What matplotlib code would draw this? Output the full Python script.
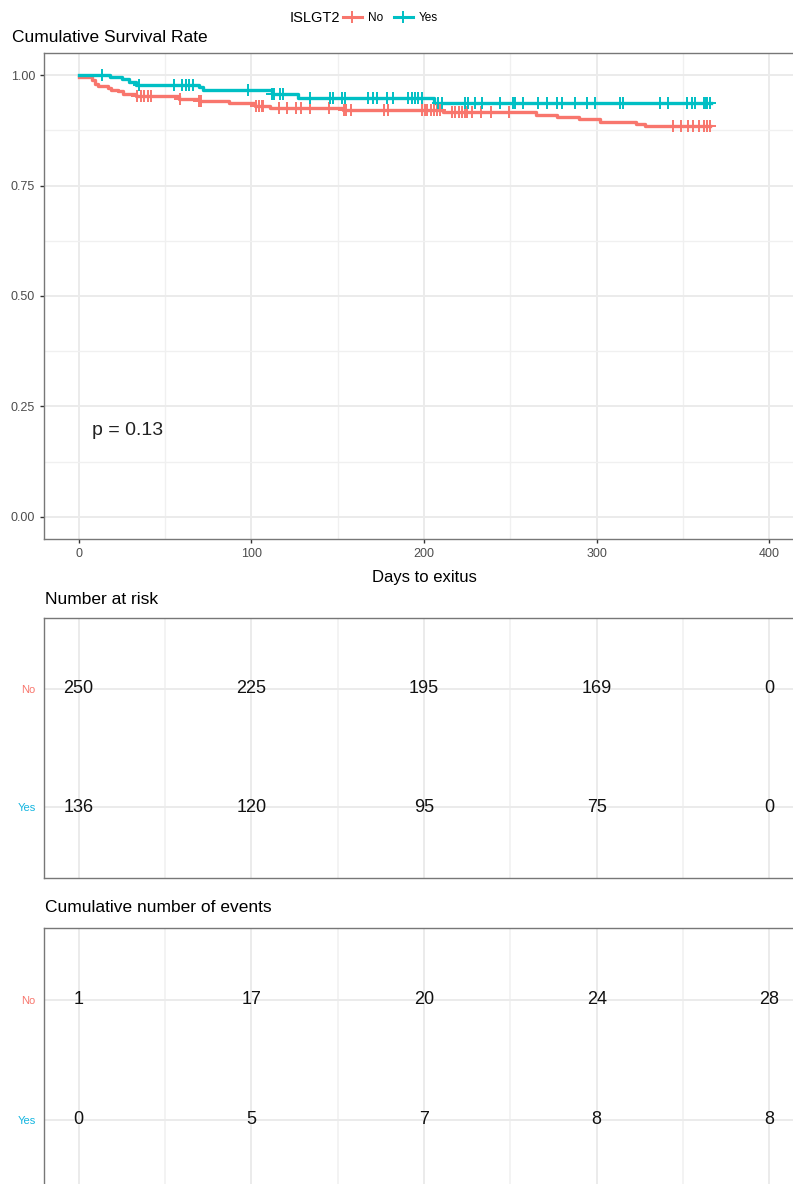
import numpy as np
import matplotlib
matplotlib.use("Agg")
import matplotlib.pyplot as plt
from matplotlib.lines import Line2D
from matplotlib.ticker import MultipleLocator

plt.rcParams['font.family'] = ['Liberation Sans', 'DejaVu Sans']

# ---------- data ----------
groups = ["No", "Yes"]
colors = {"No": "#F8766D", "Yes": "#00BFC4"}
label_colors = {"No": "#F8766D", "Yes": "#12B5E0"}

# Kaplan-Meier steps: time (days) and survival after the step
no_times = [0, 7.5, 9.5, 11.5, 17, 19, 23, 26, 33.5, 58, 69.5, 87, 102, 111, 153,
            211, 265, 277, 290, 302, 323, 328, 365.5]
no_surv = [0.996, 0.988, 0.980, 0.975, 0.971, 0.967, 0.963, 0.958, 0.953, 0.945, 0.941,
           0.936, 0.930, 0.926, 0.921, 0.916, 0.910, 0.906, 0.900, 0.894, 0.889, 0.884, 0.884]
yes_times = [0, 18, 25, 29, 33, 70, 72, 112, 127, 206, 366]
yes_surv = [1.0, 0.995, 0.991, 0.985, 0.977, 0.972, 0.966, 0.957, 0.949, 0.937, 0.937]

# censoring times
no_censor = [34, 36, 38, 40, 42, 59, 70, 71, 103, 104.5, 106, 107, 116, 120.5, 126, 129,
             134, 145, 153.5, 155, 158, 177, 179, 199, 200.5, 202, 204, 205.5, 207.5, 209,
             216, 218, 220, 222, 223.5, 225, 228, 233, 239, 249, 344, 349, 353, 356, 359,
             362, 364, 365.5]
yes_censor = [13.5, 35, 55, 60, 62, 64, 66.5, 98, 112, 113, 116.7, 118.6, 134, 145.6,
              147.5, 152.4, 154.3, 167.8, 170.7, 172.6, 178.4, 182.2, 190.9, 192.9, 194.8,
              196.7, 198.6, 208.3, 210.2, 223.7, 225.6, 229.5, 233.4, 243.9, 251.7, 252.6,
              257.5, 266.2, 271, 276.8, 279.7, 287.4, 294.1, 299, 313.4, 315.4, 336.6, 341.4,
              352, 354.9, 356.8, 362, 363, 364, 365.5]

table_days = [0, 100, 200, 300, 400]
no_at_risk = [250, 225, 195, 169, 0]
yes_at_risk = [136, 120, 95, 75, 0]
no_events = [1, 17, 20, 24, 28]
yes_events = [0, 5, 7, 8, 8]

curves = {
    "No": (no_times, no_surv, no_censor),
    "Yes": (yes_times, yes_surv, yes_censor),
}

# ---------- figure ----------
W, H = 793, 1184
fig = plt.figure(figsize=(W / 100, H / 100), dpi=100)

def fx(px):
    return px / W

def fy(py):
    return 1 - py / H

border = "#777777"
grid_major = "#EBEBEB"
grid_minor = "#F0F0F0"

def style_panel(ax):
    for s in ax.spines.values():
        s.set_color(border)
        s.set_linewidth(1.0)
    ax.set_xlim(-20, 420)
    ax.xaxis.set_major_locator(MultipleLocator(100))
    ax.xaxis.set_minor_locator(MultipleLocator(50))
    ax.grid(which="major", color=grid_major, linewidth=1.4)
    ax.set_axisbelow(True)

left_px, right_px = 44, 804
ax_w = fx(right_px - left_px)

# --- survival panel ---
ax = fig.add_axes([fx(left_px), fy(539), ax_w, (539 - 53) / H])
style_panel(ax)
ax.set_ylim(-0.05, 1.05)
ax.yaxis.set_major_locator(MultipleLocator(0.25))
ax.yaxis.set_minor_locator(MultipleLocator(0.125))
ax.grid(which="minor", color=grid_minor, linewidth=1.0)
ax.set_yticks([0, 0.25, 0.5, 0.75, 1.0])
ax.set_yticklabels(["0.00", "0.25", "0.50", "0.75", "1.00"])
ax.tick_params(which="major", length=3, width=1, color="#333333", labelsize=9,
               labelcolor="#4D4D4D")
ax.tick_params(which="minor", length=0)

for g in groups:
    t, s, cens = curves[g]
    ax.step(t, s, where="post", color=colors[g], linewidth=2.4, zorder=3)
    t_arr = np.array(t)
    idx = np.searchsorted(t_arr, np.array(cens), side="right") - 1
    cy = np.array(s)[idx]
    ax.plot(cens, cy, linestyle="none", marker="+", markersize=8, markeredgewidth=1.4,
            color=colors[g], zorder=4)

ax.text(8, 0.195, "p = 0.13", fontsize=14, color="#222222", ha="left", va="center")
ax.set_xlabel("Days to exitus", fontsize=12, labelpad=7)

fig.text(fx(12), fy(37), "Cumulative Survival Rate", fontsize=12.5, ha="left", va="center")

# legend
fig.text(fx(340), fy(18), "ISLGT2", fontsize=10.5, ha="right", va="center")
handles = [Line2D([], [], color=colors[g], linewidth=2.2, marker="+", markersize=8,
                  markeredgewidth=1.4) for g in groups]
fig.legend(handles, groups, loc="center left", bbox_to_anchor=(fx(343), fy(18)), ncol=2,
           frameon=False, fontsize=8.5, handlelength=1.6, handletextpad=0.5,
           columnspacing=0.9, borderaxespad=0, borderpad=0)

# --- tables ---
def table_panel(top_px, bottom_px, no_vals, yes_vals, title, title_px):
    t_ax = fig.add_axes([fx(left_px), fy(bottom_px), ax_w, (bottom_px - top_px) / H])
    style_panel(t_ax)
    t_ax.grid(which="minor", axis="x", color=grid_minor, linewidth=1.1)
    t_ax.set_ylim(0.4, 2.6)
    t_ax.set_yticks([2, 1])
    t_ax.set_yticklabels(groups, fontsize=8)
    for lab, g in zip(t_ax.get_yticklabels(), groups):
        lab.set_color(label_colors[g])
    t_ax.tick_params(axis="y", length=0, pad=6)
    t_ax.tick_params(axis="x", which="both", length=0, labelbottom=False)
    for d, n in zip(table_days, no_vals):
        t_ax.text(d, 2, str(n), ha="center", va="center", fontsize=13, color="#111111")
    for d, n in zip(table_days, yes_vals):
        t_ax.text(d, 1, str(n), ha="center", va="center", fontsize=13, color="#111111")
    fig.text(fx(45), fy(title_px), title, fontsize=12.5, ha="left", va="center")
    return t_ax

table_panel(618, 878, no_at_risk, yes_at_risk, "Number at risk", 600)
table_panel(928, 1192, no_events, yes_events, "Cumulative number of events", 908)

fig.savefig("out.png", dpi=100)
